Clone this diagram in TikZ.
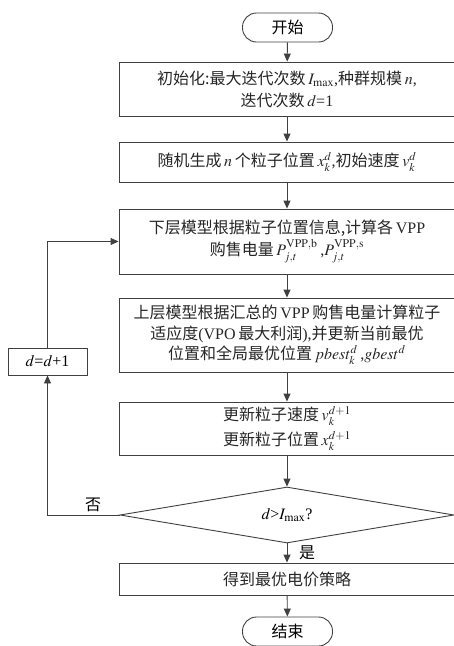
\documentclass[tikz,border=0pt]{standalone}
\usepackage{mathptmx}
\usepackage{fontspec}
\setmainfont{Liberation Serif}
\newfontfamily\zh{Noto Sans CJK SC}
\usetikzlibrary{shapes.geometric,arrows.meta}
\tikzset{
  ln/.style={draw=black!75,line width=0.9pt},
  arr/.style={ln,-{Triangle[length=8pt,width=7pt]}},
  box/.style={ln,rectangle,minimum width=336pt,inner sep=0pt,align=center,text=black!85,font=\fontsize{16}{22}\selectfont},
  term/.style={ln,rectangle,rounded corners=14pt,minimum width=90pt,minimum height=29pt,inner sep=0pt,font=\fontsize{16}{18}\selectfont\zh},
  dec/.style={ln,diamond,aspect=6,minimum width=334pt,minimum height=56pt,inner sep=0pt,font=\fontsize{16}{18}\selectfont},
  lab/.style={font=\fontsize{16}{18}\selectfont\zh,inner sep=0pt}
}
\begin{document}
\begin{tikzpicture}[x=1pt,y=-1pt]
\clip (0,0) rectangle (454,646);
\node[term] (start) at (287.5,27.5) {开始};
\node[box,minimum height=54pt] (b1) at (287,89) {{\zh 初始化:最大迭代次数}\,$I_{\max}$,{\zh 种群规模}\,$n$,\\{\zh 迭代次数}\,$d$=1};
\node[box,minimum height=40pt] (b2) at (287,162) {{\zh 随机生成}\,$n$\,{\zh 个粒子位置}\,$x_k^d$,{\zh 初始速度}\,$v_k^d$};
\node[box,minimum height=65pt] (b3) at (287,241.5) {{\zh 下层模型根据粒子位置信息,计算各}\,VPP\\{\zh 购售电量}\,$P_{j,t}^{\mathrm{VPP,b}}$\,,$P_{j,t}^{\mathrm{VPP,s}}$};
\node[box,minimum height=74pt,font=\fontsize{16}{20.5}\selectfont] (b4) at (287,335) {{\zh 上层模型根据汇总的}\,VPP\,{\zh 购售电量计算粒子}\\{\zh 适应度}(VPO\,{\zh 最大利润}),{\zh 并更新当前最优}\\{\zh 位置和全局最优位置}\,$pbest_k^d$\,,$gbest^d$};
\node[box,minimum height=53pt,font=\fontsize{16}{25}\selectfont] (b5) at (287,428.5) {{\zh 更新粒子速度}\,$v_k^{d+1}$\\{\zh 更新粒子位置}\,$x_k^{d+1}$};
\node[dec] (dia) at (287,515) {$d$>$I_{\max}$?};
\node[box,minimum height=32pt] (b6) at (287,579) {{\zh 得到最优电价策略}};
\node[term] (stop) at (287.5,631.5) {结束};
\node[ln,rectangle,minimum width=79pt,minimum height=27pt,inner sep=0pt,font=\fontsize{16}{18}\selectfont] (inc) at (47.5,361.5) {$d$=$d$+1};
\draw[arr] (start) -- (b1);
\draw[arr] (b1) -- (b2);
\draw[arr] (b2) -- (b3);
\draw[arr] (b3) -- (b4);
\draw[arr] (b4) -- (b5);
\draw[arr] (b5) -- (dia);
\draw[arr] (dia) -- (b6);
\draw[arr] (b6) -- (stop);
\draw[arr] (dia.west) -| (inc.south);
\draw[arr] (inc.north) |- (b3.west);
\node[lab] (no) at (93,505) {否};
\node[lab] (yes) at (307,553) {是};
\end{tikzpicture}
\end{document}
